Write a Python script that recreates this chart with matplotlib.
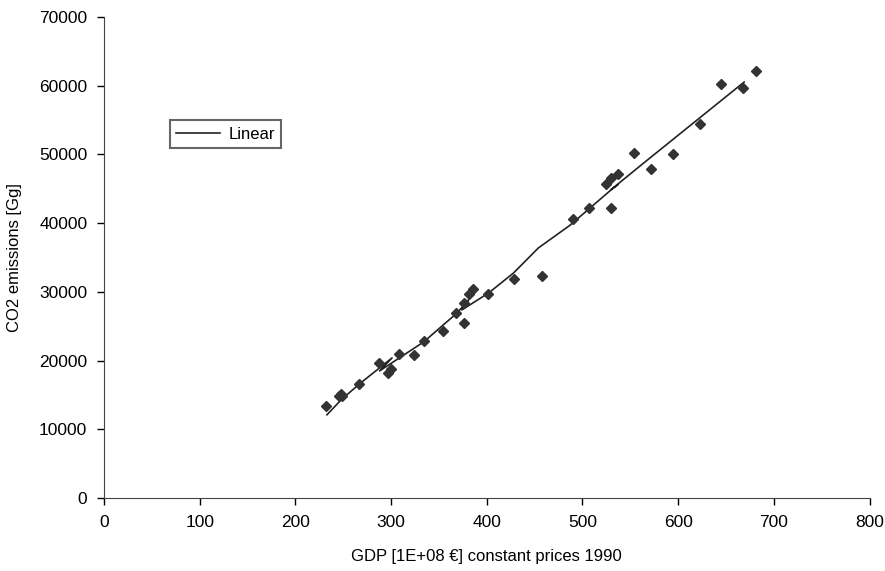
import matplotlib
matplotlib.use("Agg")
import matplotlib.pyplot as plt

plt.rcParams['font.family'] = ['Liberation Sans', 'DejaVu Sans']

# observed points: GDP vs CO2 emissions
gdp = [232, 246, 248, 249, 266, 287, 297, 300, 308, 324, 334, 354, 368, 376, 376,
       381, 386, 401, 428, 458, 490, 507, 525, 530, 530, 537, 554, 572, 595, 623,
       645, 668, 681]
co2 = [13400, 14800, 15100, 14900, 16600, 19650, 18200, 18780, 20960, 20800, 22850,
       24300, 26930, 25470, 28380, 29700, 30420, 29700, 31880, 32300, 40600, 42200,
       45700, 46600, 42200, 47200, 50200, 47900, 50100, 54400, 60300, 59700, 62150]

# fitted "Linear" line, in data order
fit_x = [233, 248, 267, 301, 288, 334, 369, 381, 374, 402, 428, 454, 487, 532, 537,
         530, 564, 669]
fit_y = [12100, 14300, 16600, 20380, 18490, 22700, 26930, 28820, 27370, 29840, 32750,
         36400, 39700, 45100, 45600, 44900, 48760, 60550]

fig = plt.figure(figsize=(8.85, 5.71), dpi=100)
ax = fig.add_axes([0.1175, 0.128, 0.865, 0.842])

ax.plot(fit_x, fit_y, color='#222222', lw=1.2, label='Linear', zorder=2)
ax.plot(gdp, co2, 'D', color='#333333', ms=4.8, ls='none', zorder=3)

ax.set_xlim(0, 800)
ax.set_ylim(0, 70000)
ax.set_xticks(range(0, 801, 100))
ax.set_yticks(range(0, 70001, 10000))
ax.tick_params(direction='out', length=5, width=1, labelsize=12.5, pad=7)

for s in ['top', 'right']:
    ax.spines[s].set_visible(False)
for s in ['left', 'bottom']:
    ax.spines[s].set_color('#444444')

ax.set_xlabel('GDP [1E+08 €] constant prices 1990', fontsize=12, labelpad=14)
ax.set_ylabel('CO2 emissions [Gg]', fontsize=12, labelpad=12)

leg = ax.legend(loc='upper left', bbox_to_anchor=(0.086, 0.786), borderaxespad=0,
                fontsize=12, fancybox=False, framealpha=1, edgecolor='#666666',
                handlelength=2.6, borderpad=0.4, handletextpad=0.5)
leg.get_frame().set_linewidth(1.5)

fig.savefig('out.png', dpi=100)
